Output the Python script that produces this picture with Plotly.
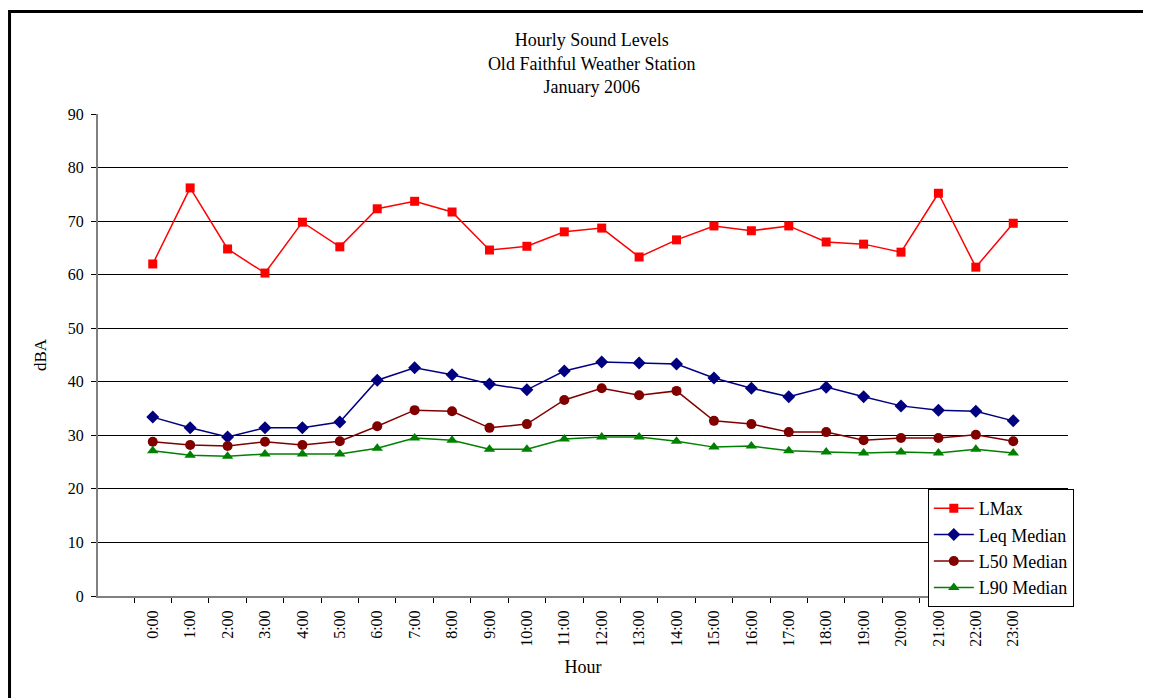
import plotly.graph_objects as go

hours = [f"{h}:00" for h in range(24)]

lmax = [62.0, 76.2, 64.8, 60.3, 69.8, 65.2, 72.3, 73.7, 71.7, 64.6, 65.3, 68.0,
        68.7, 63.3, 66.5, 69.1, 68.2, 69.1, 66.1, 65.7, 64.2, 75.2, 61.4, 69.6]
leq_median = [33.4, 31.4, 29.7, 31.4, 31.4, 32.5, 40.3, 42.6, 41.3, 39.6, 38.5, 42.0,
              43.7, 43.5, 43.3, 40.7, 38.8, 37.2, 39.0, 37.2, 35.5, 34.7, 34.5, 32.7]
l50_median = [28.8, 28.2, 28.0, 28.8, 28.2, 28.9, 31.7, 34.7, 34.5, 31.4, 32.1, 36.6,
              38.8, 37.5, 38.3, 32.7, 32.1, 30.6, 30.6, 29.1, 29.5, 29.5, 30.1, 28.9]
l90_median = [27.1, 26.3, 26.1, 26.5, 26.5, 26.5, 27.6, 29.5, 29.1, 27.4, 27.4, 29.3,
              29.7, 29.7, 28.9, 27.8, 28.0, 27.1, 26.9, 26.7, 26.9, 26.7, 27.4, 26.7]

FONT = "Liberation Serif, DejaVu Serif, serif"

series = [
    ("LMax", lmax, "#FF0000", "square", 9),
    ("Leq Median", leq_median, "#000080", "diamond", 10),
    ("L50 Median", l50_median, "#800000", "circle", 10),
    ("L90 Median", l90_median, "#008000", "triangle-up", 10),
]

fig = go.Figure()
for name, vals, color, sym, size in series:
    fig.add_trace(go.Scatter(x=hours, y=vals, mode="lines+markers", name=name,
                             line=dict(color=color, width=1.5),
                             marker=dict(symbol=sym, size=size, color=color)))

# page body has an 8px margin, so margins are offset to land the plot area
fig.update_layout(
    width=1151, height=698,
    margin=dict(l=90, r=91, t=106, b=110),
    paper_bgcolor="white", plot_bgcolor="white",
    font=dict(family=FONT, color="black", size=16),
    title=dict(text="Hourly Sound Levels<br>Old Faithful Weather Station<br>January 2006",
               x=0.509, xref="paper", xanchor="center", y=0.945, yanchor="top",
               font=dict(size=18)),
    legend=dict(x=1.006, y=0.222, xanchor="right", yanchor="top",
                bordercolor="black", borderwidth=1, bgcolor="white",
                font=dict(size=18), tracegroupgap=0, itemwidth=40),
    showlegend=True,
)

fig.update_xaxes(
    type="category", tickson="boundaries", ticks="outside", ticklen=5,
    tickcolor="black", tickangle=-90, showgrid=False, ticklabelstandoff=6,
    showline=True, linecolor="#808080", linewidth=2,
    title=dict(text="Hour", font=dict(size=18), standoff=15),
    tickfont=dict(size=16),
)
fig.update_yaxes(
    range=[0, 90], dtick=10, ticks="outside", ticklen=5, tickcolor="black",
    showgrid=True, gridcolor="black", gridwidth=1, ticklabelstandoff=4,
    showline=True, linecolor="#808080", linewidth=2, zeroline=False,
    title=dict(text="dBA", font=dict(size=17), standoff=17),
    tickfont=dict(size=16),
)

# outer chart frame
fig.add_shape(type="rect", xref="paper", yref="paper",
              x0=-0.0912, x1=1.1, y0=-0.25, y1=1.2127,
              line=dict(color="black", width=3), layer="below")

fig.write_html("out.html")
